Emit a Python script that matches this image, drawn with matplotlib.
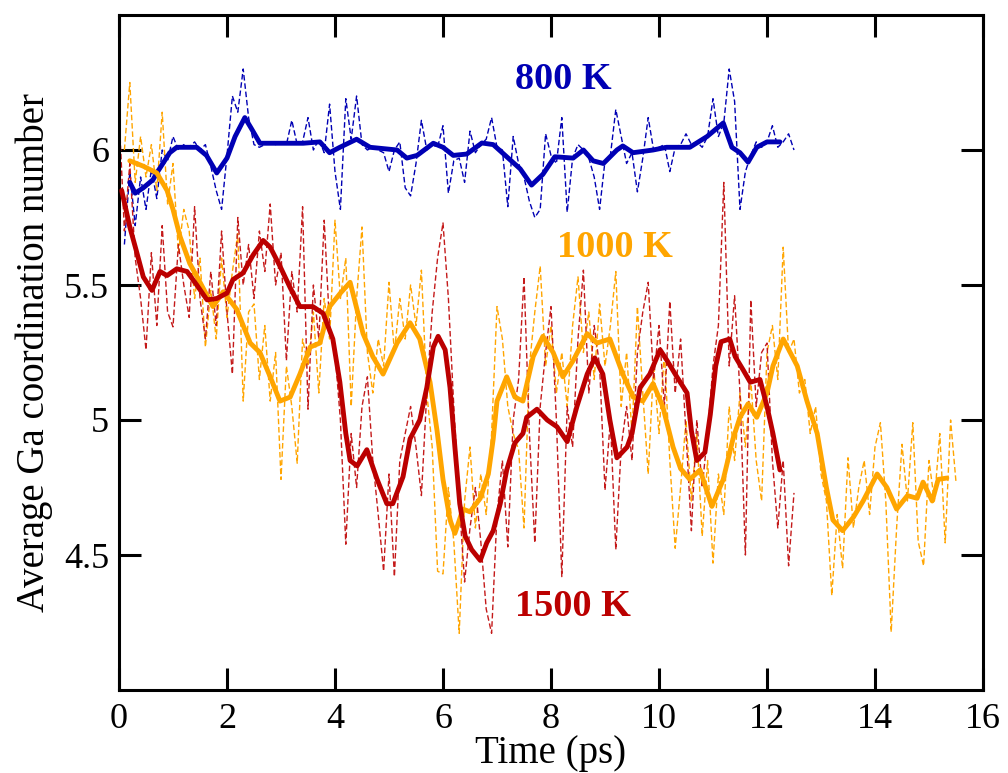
import numpy as np
import matplotlib
matplotlib.use("Agg")
import matplotlib.pyplot as plt

plt.rcParams['font.family'] = ['Liberation Serif', 'DejaVu Serif']

# ---------------- data ----------------
# 800 K raw (dashed), t = 0.1 ... 12.5 step 0.1
t800_raw_start, t800_raw_step = 0.1, 0.1
y800_raw = [5.65, 5.92, 5.72, 5.90, 5.78, 5.93, 5.82, 6.00, 5.96, 6.05,
            6.00, 6.02, 6.01, 6.03, 6.00, 6.02, 5.94, 5.85, 5.78, 5.98,
            6.20, 6.14, 6.30, 6.12, 6.02, 6.01, 6.02, 6.03, 6.02, 6.03,
            6.02, 6.11, 6.02, 6.03, 6.12, 6.00, 6.04, 5.99, 6.17, 5.92,
            5.78, 6.19, 6.04, 6.20, 6.02, 6.00, 6.01, 6.00, 5.99, 5.92,
            6.00, 6.03, 5.86, 5.83, 5.95, 6.11, 6.00, 6.02, 6.01, 6.09,
            5.84, 5.96, 5.97, 5.88, 6.07, 5.99, 6.02, 6.04, 6.12, 6.01,
            6.00, 5.79, 6.05, 5.95, 5.90, 5.81, 5.75, 5.78, 6.06, 5.98,
            5.95, 6.12, 5.77, 5.97, 6.02, 6.00, 5.97, 5.90, 5.78, 5.96,
            5.98, 6.15, 6.05, 5.95, 5.99, 5.845, 5.97, 6.12, 6.00, 6.01,
            6.02, 5.92, 6.01, 6.02, 6.06, 6.02, 6.03, 6.01, 6.05, 6.19,
            6.05, 6.10, 6.30, 6.18, 5.78, 5.92, 5.98, 6.03, 6.01, 6.03,
            6.09, 6.01, 6.03, 6.06, 6.00]
# 800 K smoothed
t800_s = [0.2, 0.3, 0.45, 0.63, 0.7, 0.94, 1.07, 1.44, 1.62, 1.81, 2.0, 2.15,
          2.33, 2.45, 2.61, 3.04, 3.41, 3.72, 3.9, 4.09, 4.4, 4.65, 5.15, 5.33,
          5.52, 5.82, 6.0, 6.19, 6.44, 6.72, 6.93, 7.18, 7.43, 7.64, 7.85, 8.07,
          8.41, 8.6, 8.78, 8.97, 9.22, 9.33, 9.52, 9.89, 10.14, 10.57, 10.89,
          11.19, 11.35, 11.5, 11.65, 11.81, 12.0, 12.24]
y800_s = [5.88, 5.84, 5.86, 5.89, 5.915, 5.99, 6.01, 6.01, 5.98, 5.915, 5.97,
          6.05, 6.12, 6.08, 6.025, 6.025, 6.025, 6.03, 5.99, 6.01, 6.04, 6.01,
          6.0, 5.97, 5.98, 6.025, 6.01, 5.98, 5.985, 6.026, 6.02, 5.975, 5.93,
          5.87, 5.91, 5.975, 5.97, 6.0, 5.96, 5.95, 6.0, 6.015, 5.99, 6.0,
          6.01, 6.01, 6.05, 6.10, 6.01, 5.99, 5.955, 6.01, 6.03, 6.03]

# 1000 K raw (dashed), t = 0.1 ... 15.5 step 0.1
t1000_raw_start, t1000_raw_step = 0.1, 0.1
y1000_raw = [6.00, 6.25, 5.88, 6.05, 5.90, 6.02, 5.85, 6.14, 5.80, 5.95,
             5.62, 5.78, 5.70, 5.45, 5.60, 5.27, 5.48, 5.30, 5.60, 5.38,
             5.55, 5.69, 5.07, 5.40, 5.43, 5.15, 5.35, 5.07, 5.25, 4.78,
             5.20, 5.05, 4.84, 5.30, 5.20, 5.40, 5.10, 5.45, 5.30, 5.74,
             5.45, 5.60, 5.05, 5.45, 5.715, 5.25, 5.10, 5.30, 5.20, 5.51,
             5.25, 5.45, 5.30, 5.50, 5.35, 5.555, 5.10, 4.90, 4.44, 4.43,
             4.75, 4.55, 4.21, 4.70, 4.90, 4.60, 4.80, 4.65, 4.95, 5.42,
             5.30, 5.05, 4.95, 4.89, 4.60, 5.20, 5.40, 5.57, 5.20, 5.35,
             5.10, 5.25, 5.05, 5.35, 5.53, 5.25, 5.40, 5.15, 5.43, 5.20,
             5.35, 5.55, 5.05, 5.25, 4.95, 5.42, 5.10, 4.80, 5.20, 4.95,
             5.25, 4.85, 4.525, 4.75, 5.00, 4.70, 4.95, 4.57, 4.85, 4.47,
             4.80, 4.65, 5.05, 4.85, 5.10, 4.90, 5.15, 4.85, 4.70, 5.25,
             5.35, 5.15, 5.64, 5.25, 5.30, 5.10, 5.15, 4.95, 5.05, 4.80,
             4.70, 4.35, 4.65, 4.45, 4.86, 4.60, 4.75, 4.85, 4.65, 4.90,
             4.99, 4.70, 4.215, 4.60, 4.91, 4.70, 4.99, 4.55, 4.46, 4.85,
             4.70, 4.95, 4.545, 5.00, 4.77]
# 1000 K smoothed
t1000_s = [0.2, 0.45, 0.7, 0.89, 1.0, 1.13, 1.31, 1.5, 1.74, 1.93, 2.18, 2.43,
           2.61, 2.8, 2.98, 3.17, 3.35, 3.54, 3.72, 3.9, 4.1, 4.28, 4.52, 4.7,
           4.89, 5.15, 5.39, 5.57, 5.76, 5.89, 6.0, 6.13, 6.22, 6.37, 6.5, 6.69,
           6.84, 6.93, 7.0, 7.18, 7.33, 7.48, 7.67, 7.85, 8.04, 8.22, 8.41, 8.67,
           8.85, 9.09, 9.33, 9.52, 9.7, 9.89, 10.07, 10.26, 10.4, 10.57, 10.76,
           10.98, 11.19, 11.37, 11.5, 11.65, 11.81, 12.0, 12.11, 12.3, 12.56,
           12.74, 12.93, 13.1, 13.22, 13.4, 13.6, 13.78, 14.04, 14.22, 14.4,
           14.6, 14.78, 14.89, 15.06, 15.17, 15.33]
y1000_s = [5.96, 5.94, 5.915, 5.85, 5.78, 5.68, 5.58, 5.51, 5.42, 5.475, 5.41,
           5.285, 5.25, 5.16, 5.07, 5.085, 5.17, 5.27, 5.285, 5.42, 5.47, 5.51,
           5.32, 5.235, 5.17, 5.285, 5.36, 5.30, 5.14, 4.96, 4.78, 4.63, 4.58,
           4.67, 4.66, 4.71, 4.80, 4.93, 5.07, 5.16, 5.085, 5.07, 5.235, 5.31,
           5.25, 5.16, 5.22, 5.32, 5.285, 5.30, 5.17, 5.085, 5.07, 5.135, 5.05,
           4.90, 4.82, 4.78, 4.815, 4.68, 4.78, 4.93, 5.01, 5.06, 5.01, 5.10,
           5.20, 5.30, 5.20, 5.07, 4.95, 4.75, 4.63, 4.59, 4.64, 4.70, 4.80,
           4.75, 4.67, 4.72, 4.71, 4.77, 4.70, 4.78, 4.785]

# 1500 K raw (dashed), t = 0.0 ... 12.5 step 0.1
t1500_raw_start, t1500_raw_step = 0.0, 0.1
y1500_raw = [6.14, 5.70, 5.95, 5.60, 5.45, 5.26, 5.62, 5.35, 5.72, 5.40,
             5.345, 5.65, 5.50, 5.38, 5.79, 5.45, 5.30, 5.55, 5.35, 5.70,
             5.40, 5.17, 5.75, 5.50, 5.65, 5.45, 5.70, 5.55, 5.80, 5.50,
             5.62, 5.22, 5.55, 5.40, 5.79, 5.04, 5.50, 5.30, 5.74, 5.35,
             5.25, 5.00, 4.54, 4.95, 4.75, 5.05, 5.16, 4.85, 4.65, 4.44,
             4.80, 4.42, 4.85, 4.95, 5.05, 4.90, 4.72, 5.10, 5.40, 5.60,
             5.73, 5.45, 5.05, 4.70, 4.40, 4.60, 4.75, 4.55, 4.30, 4.21,
             4.65, 4.85, 4.53, 5.00, 5.15, 5.53, 4.95, 4.545, 5.05, 5.25,
             5.42, 5.00, 4.42, 5.05, 4.90, 5.30, 5.555, 5.10, 5.35, 5.20,
             4.74, 5.00, 4.52, 4.90, 5.05, 4.85, 5.25, 5.40, 5.51, 5.15,
             5.35, 5.05, 5.44, 5.10, 5.30, 4.95, 4.59, 5.00, 4.75, 4.95,
             5.20, 5.35, 5.88, 5.20, 5.46, 5.10, 4.50, 5.445, 5.05, 5.25,
             5.285, 4.85, 4.60, 4.85, 4.46, 4.73]
# 1500 K smoothed
t1500_s = [0.05, 0.2, 0.33, 0.45, 0.61, 0.76, 0.89, 1.07, 1.26, 1.44, 1.63,
           1.81, 2.0, 2.11, 2.3, 2.48, 2.67, 2.8, 2.98, 3.17, 3.35, 3.59, 3.78,
           3.96, 4.09, 4.2, 4.28, 4.41, 4.59, 4.78, 4.96, 5.07, 5.26, 5.39,
           5.57, 5.7, 5.82, 5.91, 6.04, 6.13, 6.22, 6.31, 6.41, 6.53, 6.69,
           6.81, 6.93, 7.06, 7.18, 7.33, 7.48, 7.55, 7.74, 7.93, 8.11, 8.3,
           8.48, 8.67, 8.81, 8.96, 9.09, 9.22, 9.41, 9.5, 9.65, 9.83, 10.02,
           10.15, 10.33, 10.52, 10.6, 10.7, 10.85, 10.95, 11.05, 11.15, 11.31,
           11.41, 11.56, 11.69, 11.87, 12.0, 12.11, 12.24]
y1500_s = [5.85, 5.715, 5.62, 5.53, 5.48, 5.55, 5.535, 5.56, 5.55, 5.50, 5.445,
           5.45, 5.47, 5.52, 5.545, 5.61, 5.665, 5.64, 5.57, 5.49, 5.42, 5.42,
           5.395, 5.30, 5.14, 4.95, 4.85, 4.83, 4.89, 4.78, 4.69, 4.69, 4.79,
           4.93, 5.0, 5.12, 5.27, 5.31, 5.26, 5.12, 4.90, 4.69, 4.57, 4.52,
           4.48, 4.545, 4.59, 4.69, 4.815, 4.915, 4.95, 5.01, 5.04, 5.0, 4.975,
           4.92, 5.05, 5.17, 5.23, 5.17, 5.0, 4.86, 4.90, 4.95, 5.12, 5.17,
           5.26, 5.22, 5.16, 5.10, 4.96, 4.85, 4.88, 5.02, 5.20, 5.29, 5.30,
           5.235, 5.185, 5.14, 5.15, 5.05, 4.95, 4.815]

series_labels = ["800 K", "1000 K", "1500 K"]
label_pos = [(8.22, 6.26), (9.19, 5.64), (8.41, 4.31)]

x_ticks = [0, 2, 4, 6, 8, 10, 12, 14, 16]
y_ticks = [4.5, 5, 5.5, 6]
y_tick_labels = ["4.5", "5", "5.5", "6"]

# ---------------- styles ----------------
c_blue = '#0000b4'
c_orange = '#ffa500'
c_red = '#bb0000'

def raw_t(start, step, vals):
    return start + step * np.arange(len(vals))

fig = plt.figure(figsize=(10.08, 7.73), dpi=100)
ax = fig.add_axes([119/1008, 1 - 690/773, (983-119)/1008, (690-15)/773])

dash = (4, 2)
ax.plot(raw_t(t800_raw_start, t800_raw_step, y800_raw), y800_raw,
        color=c_blue, lw=1.0, dashes=dash, zorder=2)
ax.plot(raw_t(t1000_raw_start, t1000_raw_step, y1000_raw), y1000_raw,
        color=c_orange, lw=1.0, dashes=dash, zorder=2)
ax.plot(raw_t(t1500_raw_start, t1500_raw_step, y1500_raw), y1500_raw,
        color='#c41a1a', lw=1.0, dashes=dash, zorder=2)

ax.plot(t800_s, y800_s, color=c_blue, lw=3.5, solid_joinstyle='round',
        solid_capstyle='round', zorder=4)
ax.plot(t1000_s, y1000_s, color=c_orange, lw=3.5, solid_joinstyle='round',
        solid_capstyle='round', zorder=4)
ax.plot(t1500_s, y1500_s, color=c_red, lw=3.5, solid_joinstyle='round',
        solid_capstyle='round', zorder=5)

for lab, (lx, ly), col in zip(series_labels, label_pos, [c_blue, c_orange, c_red]):
    ax.text(lx, ly, lab, color=col, fontsize=27.5, fontweight='bold',
            ha='center', va='center', zorder=6)

ax.set_xlim(0, 16)
ax.set_ylim(4.0, 6.5)
ax.set_xticks(x_ticks)
ax.set_yticks(y_ticks)
ax.set_yticklabels(y_tick_labels)
ax.tick_params(direction='in', length=16, width=2.2, top=True, right=True,
               labelsize=26)
ax.tick_params(axis='x', pad=9)
ax.tick_params(axis='y', pad=7)
for s in ax.spines.values():
    s.set_linewidth(2.2)

ax.set_xlabel("Time (ps)", fontsize=28, labelpad=0)
ax.set_ylabel("Average Ga coordination number", fontsize=28, labelpad=8)

fig.savefig("out.png", dpi=100)
